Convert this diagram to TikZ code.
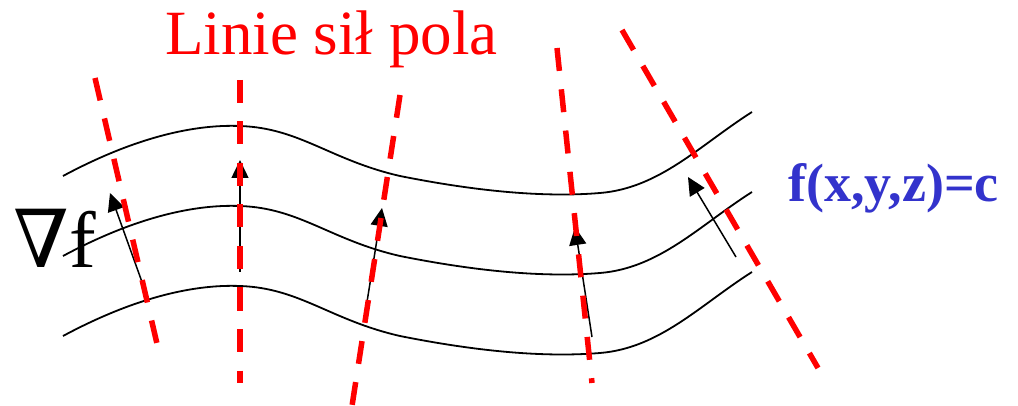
\documentclass[tikz,border=0pt]{standalone}
\usepackage{fontspec}
\setmainfont{Liberation Serif}
\newfontfamily\nablafont{DejaVu Serif}
\usetikzlibrary{arrows.meta}
\definecolor{fieldred}{RGB}{255,0,0}
\definecolor{lblblue}{RGB}{51,51,204}
\tikzset{
  surf/.style={draw=black, line width=1.8pt},
  fieldline/.style={draw=fieldred, line width=5.5pt, dash pattern=on 23pt off 18.5pt},
  grad/.style={draw=black, line width=1.5pt, -{Triangle[length=18pt,width=17pt]}},
  lbl/.style={inner sep=0pt, anchor=base west}
}
\begin{document}
\begin{tikzpicture}[x=1pt,y=-1pt]
\useasboundingbox (0,0) rectangle (1018,406);
% level surfaces
\foreach \dy in {0,80,160}{
  \draw[surf] (63,176+\dy) .. controls (130,140+\dy) and (190,124+\dy) .. (240,126+\dy)
    .. controls (300,128+\dy) and (330,160+\dy) .. (400,176+\dy)
    .. controls (470,190+\dy) and (540,198+\dy) .. (600,193+\dy)
    .. controls (660,188+\dy) and (700,145+\dy) .. (752,112+\dy);
}
% gradient arrows
\coordinate (g1t) at (142,282); \coordinate (g1h) at (110,193);
\coordinate (g2t) at (240,272); \coordinate (g2h) at (240,160);
\coordinate (g3t) at (367,302); \coordinate (g3h) at (382,208);
\coordinate (g4t) at (592,337); \coordinate (g4h) at (575,227);
\coordinate (g5t) at (736,257); \coordinate (g5h) at (688,177);
\foreach \i in {1,...,5}{ \draw[grad] (g\i t) -- (g\i h); }
% field lines
\coordinate (f1a) at (95,78);   \coordinate (f1b) at (158,348);
\coordinate (f2a) at (240,80);  \coordinate (f2b) at (240,383);
\coordinate (f3a) at (400,95);  \coordinate (f3b) at (352,406);
\coordinate (f4a) at (557,48);  \coordinate (f4b) at (592,383);
\coordinate (f5a) at (622,30);  \coordinate (f5b) at (818,368);
\foreach \i in {1,...,5}{ \draw[fieldline] (f\i a) -- (f\i b); }
% labels
\node[lbl, text=fieldred, font=\fontsize{63}{70}\selectfont] (title) at (165,55) {Linie sił pola};
\node[lbl, font=\fontsize{80}{86}\selectfont] (nabla) at (13,268) {{\nablafont ∇}f};
\node[lbl, text=lblblue, font=\fontsize{54}{60}\selectfont\bfseries] (eq) at (788,202) {f(x,y,z)=c};
\end{tikzpicture}
\end{document}
